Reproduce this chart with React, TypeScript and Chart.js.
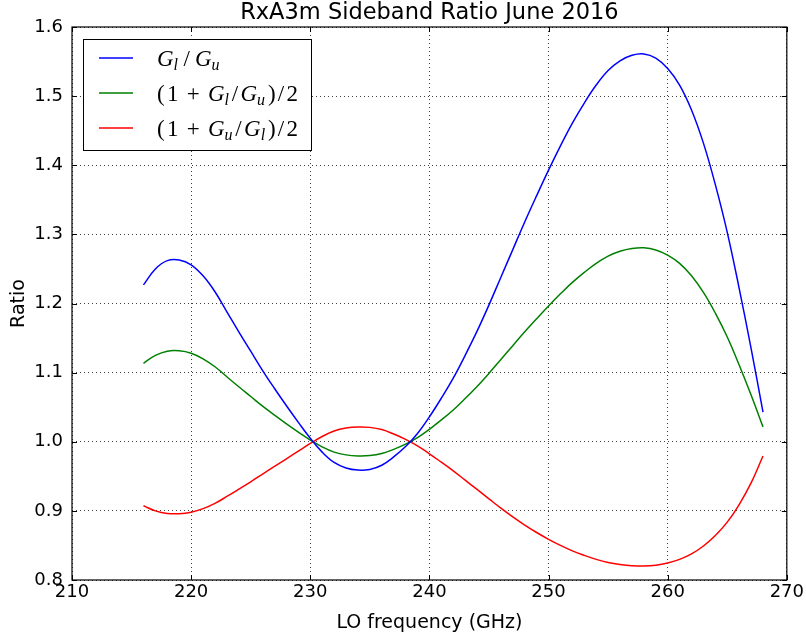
import React, { useEffect, useRef } from "react";
import { Chart, registerables } from "chart.js";

Chart.register(...registerables);

const freqs = [216, 217, 218, 219, 220, 221, 222, 223, 224, 225, 226, 227, 228, 229, 230, 231, 232, 233, 234, 235, 236, 237, 238, 239, 240, 241, 242, 243, 244, 245, 246, 247, 248, 249, 250, 251, 252, 253, 254, 255, 256, 257, 258, 259, 260, 261, 262, 263, 264, 265, 266, 267, 268];

const gainRatio = [1.227, 1.25, 1.262, 1.263, 1.256, 1.24, 1.217, 1.188, 1.159, 1.131, 1.103, 1.077, 1.052, 1.028, 1.005, 0.985, 0.97, 0.962, 0.959, 0.96, 0.966, 0.978, 0.993, 1.012, 1.036, 1.063, 1.092, 1.125, 1.16, 1.198, 1.238, 1.278, 1.318, 1.356, 1.393, 1.428, 1.461, 1.49, 1.516, 1.537, 1.551, 1.559, 1.561, 1.555, 1.54, 1.516, 1.48, 1.432, 1.372, 1.303, 1.222, 1.135, 1.043];

const meanLowerOverUpper = [1.1135, 1.125, 1.131, 1.1315, 1.128, 1.12, 1.1085, 1.094, 1.0795, 1.0655, 1.0515, 1.0385, 1.026, 1.014, 1.0025, 0.9925, 0.985, 0.981, 0.9795, 0.98, 0.983, 0.989, 0.9965, 1.006, 1.018, 1.0315, 1.046, 1.0625, 1.08, 1.099, 1.119, 1.139, 1.159, 1.178, 1.1965, 1.214, 1.2305, 1.245, 1.258, 1.2685, 1.2755, 1.2795, 1.2805, 1.2775, 1.27, 1.258, 1.24, 1.216, 1.186, 1.1515, 1.111, 1.0675, 1.0215];

const meanUpperOverLower = [0.9075, 0.9, 0.8962, 0.8959, 0.8981, 0.9032, 0.9108, 0.9209, 0.9314, 0.9421, 0.9533, 0.9643, 0.9753, 0.9864, 0.9975, 1.0076, 1.0155, 1.0198, 1.0214, 1.0208, 1.0176, 1.0112, 1.0035, 0.9941, 0.9826, 0.9704, 0.9579, 0.9444, 0.931, 0.9174, 0.9039, 0.8912, 0.8794, 0.8687, 0.8589, 0.8501, 0.8422, 0.8356, 0.8298, 0.8253, 0.8224, 0.8207, 0.8203, 0.8215, 0.8247, 0.8298, 0.8378, 0.8492, 0.8644, 0.8837, 0.9092, 0.9405, 0.9794];

const xTicks = [210, 220, 230, 240, 250, 260, 270];
const yTicks = [0.8, 0.9, 1.0, 1.1, 1.2, 1.3, 1.4, 1.5, 1.6];

const TITLE = "RxA3m Sideband Ratio June 2016";
const X_TITLE = "LO frequency (GHz)";
const Y_TITLE = "Ratio";

const W = 806;
const H = 637;
const PLOT = { left: 72, top: 27, right: 787, bottom: 580 };

type Seg = { t: string; it?: boolean; sub?: boolean; pad?: number };
const legendItems: { color: string; width: number; segs: Seg[] }[] = [
  {
    color: "#0000ff",
    width: 63,
    segs: [
      { t: "G", it: true },
      { t: "l", it: true, sub: true },
      { t: "/" },
      { t: "G", it: true },
      { t: "u", it: true, sub: true },
    ],
  },
  {
    color: "#008000",
    width: 141,
    segs: [
      { t: "(" },
      { t: "1" },
      { t: "+", pad: 6 },
      { t: "G", it: true },
      { t: "l", it: true, sub: true },
      { t: "/" },
      { t: "G", it: true },
      { t: "u", it: true, sub: true },
      { t: ")" },
      { t: "/" },
      { t: "2" },
    ],
  },
  {
    color: "#ff0000",
    width: 141,
    segs: [
      { t: "(" },
      { t: "1" },
      { t: "+", pad: 6 },
      { t: "G", it: true },
      { t: "u", it: true, sub: true },
      { t: "/" },
      { t: "G", it: true },
      { t: "l", it: true, sub: true },
      { t: ")" },
      { t: "/" },
      { t: "2" },
    ],
  },
];

const segFont = (s: Seg) => `${s.it ? "italic " : ""}${s.sub ? 16 : 23}px 'Liberation Serif'`;

const decorPlugin = {
  id: "decor",
  afterDraw(chart: any) {
    const ctx = chart.ctx as CanvasRenderingContext2D;
    const { left, right, top, bottom } = chart.chartArea;
    const xs = chart.scales.x;
    const ys = chart.scales.y;
    ctx.save();
    // inward ticks
    ctx.strokeStyle = "#000";
    ctx.lineWidth = 1;
    ctx.beginPath();
    for (const v of xTicks) {
      const px = Math.round(xs.getPixelForValue(v)) + 0.5;
      ctx.moveTo(px, bottom);
      ctx.lineTo(px, bottom - 5);
      ctx.moveTo(px, top);
      ctx.lineTo(px, top + 5);
    }
    for (const v of yTicks) {
      const py = Math.round(ys.getPixelForValue(v)) + 0.5;
      ctx.moveTo(left, py);
      ctx.lineTo(left + 5, py);
      ctx.moveTo(right, py);
      ctx.lineTo(right - 5, py);
    }
    ctx.stroke();
    // border
    ctx.lineWidth = 1.2;
    ctx.strokeRect(left, top, right - left, bottom - top);

    // title
    ctx.fillStyle = "#000";
    ctx.font = "22.5px 'DejaVu Sans'";
    ctx.textAlign = "center";
    ctx.textBaseline = "alphabetic";
    ctx.fillText(TITLE, (left + right) / 2, 19);
    // x title
    ctx.font = "19px 'DejaVu Sans'";
    ctx.fillText(X_TITLE, (left + right) / 2, 628);
    // y title
    ctx.save();
    ctx.translate(23.5, (top + bottom) / 2);
    ctx.rotate(-Math.PI / 2);
    ctx.fillText(Y_TITLE, 0, 0);
    ctx.restore();

    // legend
    const bx = 83, by = 39, bw = 228, bh = 111;
    ctx.fillStyle = "#fff";
    ctx.fillRect(bx, by, bw, bh);
    ctx.strokeStyle = "#000";
    ctx.lineWidth = 1;
    ctx.strokeRect(bx + 0.5, by + 0.5, bw, bh);
    const rows = [58, 93, 128];
    legendItems.forEach((item, i) => {
      const y = rows[i];
      ctx.strokeStyle = item.color;
      ctx.lineWidth = 1.5;
      ctx.beginPath();
      ctx.moveTo(99, y);
      ctx.lineTo(133, y);
      ctx.stroke();
      const base = y + 7.5;
      ctx.fillStyle = "#000";
      ctx.textAlign = "left";
      let natural = 0;
      const widths = item.segs.map((s) => {
        ctx.font = segFont(s);
        const w = ctx.measureText(s.t).width + 2 * (s.pad || 0) + (s.sub ? 0.5 : 0);
        natural += w;
        return w;
      });
      let gaps = 0;
      for (let k = 0; k < item.segs.length - 1; k++) if (!item.segs[k + 1].sub) gaps++;
      const extra = gaps > 0 ? Math.max(0, (item.width - natural) / gaps) : 0;
      let x = 157;
      item.segs.forEach((s, k) => {
        ctx.font = segFont(s);
        ctx.fillText(s.t, x + (s.pad || 0), s.sub ? base + 4.5 : base);
        x += widths[k];
        if (k < item.segs.length - 1 && !item.segs[k + 1].sub) x += extra;
      });
    });
    ctx.restore();
  },
};

export default function App() {
  const ref = useRef<HTMLCanvasElement | null>(null);
  useEffect(() => {
    if (!ref.current) return;
    const mk = (data: number[]) => freqs.map((f, i) => ({ x: f, y: data[i] }));
    const chart = new Chart(ref.current, {
      type: "line",
      data: {
        datasets: [
          { label: "Gl/Gu", data: mk(gainRatio), borderColor: "#0000ff", borderWidth: 1.5 },
          { label: "(1+Gl/Gu)/2", data: mk(meanLowerOverUpper), borderColor: "#008000", borderWidth: 1.5 },
          { label: "(1+Gu/Gl)/2", data: mk(meanUpperOverLower), borderColor: "#ff0000", borderWidth: 1.5 },
        ],
      },
      options: {
        responsive: false,
        animation: false,
        events: [],
        elements: {
          point: { radius: 0 },
          line: { tension: 0.4, fill: false },
        },
        layout: { padding: { top: PLOT.top, right: W - PLOT.right, left: 0, bottom: 0 } },
        plugins: { legend: { display: false }, tooltip: { enabled: false }, title: { display: false } },
        scales: {
          x: {
            type: "linear",
            min: 210,
            max: 270,
            afterBuildTicks: (s: any) => {
              s.ticks = xTicks.map((v) => ({ value: v }));
            },
            afterFit: (s: any) => {
              s.height = H - PLOT.bottom;
            },
            grid: { color: "rgba(0,0,0,0.75)", lineWidth: 1, drawTicks: false },
            border: { display: false, dash: [1, 3] },
            ticks: {
              color: "#000",
              padding: 2,
              maxRotation: 0,
              font: { family: "'DejaVu Sans'", size: 18 },
              callback: (v: any) => String(v),
            },
          },
          y: {
            type: "linear",
            min: 0.8,
            max: 1.6,
            afterBuildTicks: (s: any) => {
              s.ticks = yTicks.map((v) => ({ value: v }));
            },
            afterFit: (s: any) => {
              s.width = PLOT.left;
            },
            grid: { color: "rgba(0,0,0,0.75)", lineWidth: 1, drawTicks: false },
            border: { display: false, dash: [1, 3] },
            ticks: {
              color: "#000",
              padding: 9,
              font: { family: "'DejaVu Sans'", size: 18 },
              callback: (v: any) => Number(v).toFixed(1),
            },
          },
        },
      },
      plugins: [decorPlugin],
    } as any);
    return () => chart.destroy();
  }, []);
  return (
    <div style={{ position: "absolute", left: 0, top: 0, width: W, height: H, background: "#fff" }}>
      <canvas ref={ref} width={W} height={H} style={{ width: W, height: H, display: "block" }} />
    </div>
  );
}
